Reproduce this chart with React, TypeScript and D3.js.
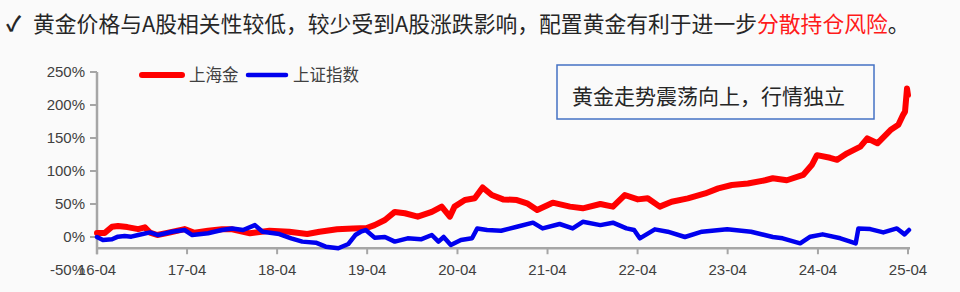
import React from "react";
import * as d3 from "d3";

const goldDates = ["2016-04-01","2016-05-02","2016-06-01","2016-06-25","2016-08-02","2016-09-15","2016-10-12","2016-11-02","2016-12-01","2017-01-15","2017-03-22","2017-05-01","2017-06-25","2017-08-20","2017-10-01","2017-12-12","2018-03-01","2018-05-20","2018-08-01","2018-09-20","2018-11-30","2019-02-03","2019-03-30","2019-05-01","2019-06-12","2019-07-22","2019-09-01","2019-10-23","2019-12-19","2020-01-28","2020-03-01","2020-03-20","2020-05-01","2020-06-10","2020-07-12","2020-08-18","2020-10-03","2020-11-28","2021-01-08","2021-02-18","2021-04-22","2021-07-01","2021-08-22","2021-11-01","2021-12-22","2022-02-08","2022-04-02","2022-05-12","2022-06-30","2022-08-17","2022-10-22","2022-12-31","2023-02-22","2023-04-18","2023-06-22","2023-08-31","2023-10-01","2023-11-27","2024-02-01","2024-03-07","2024-03-28","2024-05-20","2024-06-18","2024-07-28","2024-09-20","2024-10-18","2024-11-28","2025-01-20","2025-02-21","2025-03-12","2025-03-20","2025-03-28","2025-04-01"];
const goldValues = [6,6,15.6,16.7,15,12,14.6,6.5,3,6.5,12,6.5,9.5,11.6,11.6,5.6,9.5,8,4.5,8,11.6,13,13.6,18,25.7,38,36,30.8,38,46,30.8,46,56,58.6,75,63.6,57,56,51,41,52,46,43.5,50,46,63.6,57,58.6,46,53.5,58.6,66,73.7,78.8,81,86,89,86,94,109,124,120,117,126.8,137,149.5,142,162,170,185,190,225,215];

const shDates = ["2016-04-01","2016-04-25","2016-06-01","2016-06-25","2016-07-22","2016-08-18","2016-09-15","2016-11-02","2016-12-05","2017-01-30","2017-03-22","2017-04-22","2017-06-25","2017-08-20","2017-10-01","2017-11-14","2018-01-01","2018-02-01","2018-04-10","2018-05-28","2018-07-12","2018-09-05","2018-10-15","2018-12-05","2019-01-15","2019-02-12","2019-03-06","2019-03-26","2019-05-01","2019-06-12","2019-07-22","2019-09-12","2019-11-05","2019-12-19","2020-01-15","2020-02-05","2020-03-05","2020-04-15","2020-05-30","2020-06-20","2020-07-30","2020-09-25","2020-11-28","2021-02-01","2021-03-12","2021-05-20","2021-07-12","2021-08-22","2021-11-01","2021-12-22","2022-02-15","2022-03-18","2022-04-10","2022-06-10","2022-08-01","2022-10-10","2022-12-18","2023-03-30","2023-07-05","2023-10-01","2023-11-10","2024-01-20","2024-03-01","2024-04-20","2024-07-01","2024-09-01","2024-09-12","2024-10-30","2024-12-22","2025-02-15","2025-03-18","2025-04-05"];
const shValues = [0,-4.5,-3.5,0.5,1.5,0.5,3,7,3,8,10.6,3,5.6,10.6,13,10.6,18,8,4.5,-2,-7,-8.6,-14.7,-17,-10.6,3,8,10.6,-1,0,-7,-2,-3.5,3,-7,0,-12,-4.5,-2,13,10.6,9.5,15.6,21.7,13,19.7,13,23,18,21.7,13,10.6,-2,11.6,8,0,8,11.6,8,0,-2,-9.6,0.5,4,-2,-9.6,13,12,7,13,4,10.6];

const yTicks = [-50, 0, 50, 100, 150, 200, 250];
const xTickLabels = ["16-04","17-04","18-04","19-04","20-04","21-04","22-04","23-04","24-04","25-04"];

const titleMain = "黄金价格与A股相关性较低，较少受到A股涨跌影响，配置黄金有利于进一步";
const titleRed = "分散持仓风险";
const titleEnd = "。";
const legendNames = ["上海金", "上证指数"];
const noteText = "黄金走势震荡向上，行情独立";

export default function App() {
  const W = 960, H = 292;
  const parse = d3.timeParse("%Y-%m-%d");
  const x = d3.scaleTime().domain([parse("2016-04-01")!, parse("2025-04-01")!]).range([97, 908]);
  const y = d3.scaleLinear().domain([-50, 250]).range([270, 72]);
  const axisY = y(-17);
  const gold = goldDates.map((d, i) => [parse(d)!, goldValues[i]] as [Date, number]);
  const sh = shDates.map((d, i) => [parse(d)!, shValues[i]] as [Date, number]);
  const line = d3.line<[Date, number]>().x(d => x(d[0])).y(d => y(d[1])).curve(d3.curveLinear);
  const tickDates = xTickLabels.map(l => parse("20" + l.slice(0, 2) + "-04-01")!);
  const axisColor = "#a6a6a6";
  const labelColor = "#404040";
  const font = "'Liberation Sans', Arial, 'Noto Sans CJK SC', sans-serif";
  const cjk = "'Noto Sans CJK SC', 'Liberation Sans', sans-serif";
  return (
    <svg width={W} height={H} style={{ position: "absolute", left: 0, top: 0, background: "#fafafa" }}>
      <rect x={0} y={0} width={W} height={H} fill="#fafafa" />
      {/* title */}
      <text x={6} y={31} fontFamily={cjk} fontWeight="bold" fontSize={21} fill="#262626">✓</text>
      <text x={33} y={32} fontFamily={cjk} fontSize={21.8} fill="#262626">
        {titleMain}
        <tspan fill="#ff1a1a">{titleRed}</tspan>
        {titleEnd}
      </text>
      {/* y axis */}
      <line x1={97} x2={97} y1={y(250)} y2={axisY + 6} stroke={axisColor} strokeWidth={2.5} />
      {yTicks.filter(t => t >= 0).map(t => (
        <line key={"yt" + t} x1={90} x2={97} y1={y(t)} y2={y(t)} stroke={axisColor} strokeWidth={2} />
      ))}
      {yTicks.map(t => (
        <text key={"yl" + t} x={85} y={y(t)} dy="0.35em" textAnchor="end" fontFamily={font} fontSize={15} fill={labelColor}>{t + "%"}</text>
      ))}
      {/* x axis */}
      <line x1={97} x2={910} y1={axisY} y2={axisY} stroke={axisColor} strokeWidth={2.5} />
      {tickDates.map((d, i) => (
        <line key={"xt" + i} x1={x(d)} x2={x(d)} y1={axisY} y2={axisY + 6} stroke={axisColor} strokeWidth={2} />
      ))}
      {tickDates.map((d, i) => (
        <text key={"xl" + i} x={x(d)} y={270} dy="0.35em" textAnchor="middle" fontFamily={font} fontSize={15} fill={labelColor}>{xTickLabels[i]}</text>
      ))}
      {/* series */}
      <path d={line(gold) || ""} fill="none" stroke="#ff0000" strokeWidth={6} strokeLinejoin="round" strokeLinecap="round" />
      <path d={line(sh) || ""} fill="none" stroke="#0000ee" strokeWidth={4.5} strokeLinejoin="round" strokeLinecap="round" />
      {/* legend */}
      <line x1={142} x2={182} y1={75} y2={75} stroke="#ff0000" strokeWidth={6} strokeLinecap="round" />
      <text x={189} y={75} dy="0.35em" fontFamily={cjk} fontSize={16.5} fill={labelColor}>{legendNames[0]}</text>
      <line x1={248} x2={286} y1={75} y2={75} stroke="#0000ee" strokeWidth={4.5} strokeLinecap="round" />
      <text x={293} y={75} dy="0.35em" fontFamily={cjk} fontSize={16.5} fill={labelColor}>{legendNames[1]}</text>
      {/* annotation */}
      <rect x={557} y={65} width={317} height={54} fill="#fafafa" stroke="#4472c4" strokeWidth={1.5} />
      <text x={572} y={97} dy="0.35em" fontFamily={cjk} fontSize={21} fill="#262626">{noteText}</text>
    </svg>
  );
}
